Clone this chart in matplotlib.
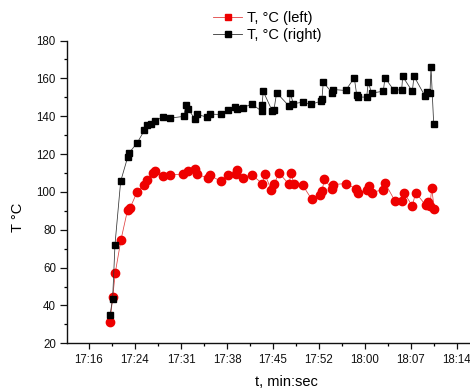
import matplotlib
matplotlib.use("Agg")
import matplotlib.pyplot as plt
from matplotlib.lines import Line2D
from matplotlib.ticker import MultipleLocator, FixedLocator

plt.rcParams['font.family'] = ['Liberation Sans', 'DejaVu Sans']

# time in minutes after 17:00
t_left = [20.09, 20.51, 20.92, 21.81, 22.86, 23.22, 24.36, 25.46, 25.83, 26.86,
          27.18, 28.33, 29.52, 31.56, 32.25, 33.44, 33.75, 35.47, 35.74, 37.41,
          38.60, 39.76, 39.92, 40.95, 42.26, 43.92, 44.35, 45.29, 45.76, 46.54,
          48.11, 48.42, 48.89, 50.25, 51.66, 52.96, 53.27, 53.63, 54.79, 55.04,
          56.98, 58.59, 58.86, 60.26, 60.67, 61.05, 62.77, 63.13, 64.69, 65.74,
          66.10, 67.40, 67.93, 69.50, 69.91, 70.17, 70.44, 70.84]
T_left = [31.4, 44.3, 57.4, 74.8, 90.7, 91.4, 100.2, 103.9, 106.1, 110.2,
          111.0, 108.2, 109.1, 109.3, 111.0, 112.3, 109.3, 107.2, 108.8, 105.6,
          108.8, 109.5, 111.4, 107.6, 109.1, 104.4, 109.3, 101.2, 104.0, 110.0,
          104.0, 110.0, 104.0, 103.5, 96.1, 98.2, 100.3, 106.8, 101.7, 103.9,
          104.4, 101.7, 99.6, 100.9, 103.1, 99.6, 101.2, 104.7, 95.2, 95.2,
          99.6, 92.6, 99.6, 93.0, 94.7, 92.6, 102.1, 90.8]

t_right = [20.09, 20.50, 20.87, 21.76, 22.86, 23.06, 24.36, 25.46, 25.83, 26.46,
           27.13, 28.33, 29.52, 31.62, 31.98, 32.34, 33.39, 33.75, 35.31, 35.74,
           37.46, 38.51, 39.70, 39.92, 40.90, 42.26, 43.83, 43.88, 44.08, 45.49,
           45.75, 46.17, 48.15, 48.30, 48.77, 50.24, 51.54, 53.11, 53.26, 53.47,
           54.88, 54.99, 56.97, 58.32, 58.70, 58.95, 60.26, 60.51, 61.04, 62.86,
           63.13, 64.54, 65.74, 65.90, 67.40, 67.67, 69.39, 69.75, 70.17, 70.33,
           70.75]
T_right = [34.9, 43.4, 72.2, 105.6, 118.4, 120.5, 126.0, 132.5, 135.1, 135.8,
           137.4, 139.7, 139.0, 139.9, 145.8, 143.9, 138.3, 140.9, 139.5, 141.1,
           140.9, 143.2, 144.8, 143.7, 144.5, 146.4, 142.7, 146.0, 153.1, 142.7,
           143.4, 152.4, 145.2, 152.4, 146.6, 147.4, 146.2, 148.0, 149.2, 158.0,
           152.2, 154.1, 153.6, 160.3, 151.3, 150.1, 150.1, 158.0, 152.2, 153.2,
           160.3, 153.6, 154.1, 161.0, 153.1, 161.1, 150.6, 152.7, 152.4, 165.9,
           136.0]

x_ticks = [16.8, 24.0, 31.2, 38.4, 45.6, 52.8, 60.0, 67.2, 74.4]
x_tick_labels = ["17:16", "17:24", "17:31", "17:38", "17:45", "17:52",
                 "18:00", "18:07", "18:14"]
series_labels = ["T, °C (left)", "T, °C (right)"]

W, H = 470, 388
fig = plt.figure(figsize=(W / 100, H / 100), dpi=100)
left_px, right_px, top_px, bot_px = 67, 505, 40.5, 343.3
ax = fig.add_axes([left_px / W, 1 - bot_px / H,
                   (right_px - left_px) / W, (bot_px - top_px) / H])

ax.plot(t_left, T_left, '-', color='#e04040', lw=0.55, marker='o', ms=6.0,
        mfc='#ee0000', mec='#ee0000', zorder=3)
ax.plot(t_right, T_right, '-', color='#333333', lw=0.55, marker='s', ms=5.0,
        mfc='black', mec='black', zorder=4)

ax.set_xlim(13.36, 81.91)
ax.set_ylim(20, 180)
ax.set_xticks(x_ticks)
ax.set_xticklabels(x_tick_labels)
ax.xaxis.set_minor_locator(FixedLocator([x + 3.6 for x in x_ticks]))
ax.yaxis.set_major_locator(MultipleLocator(20))
ax.yaxis.set_minor_locator(MultipleLocator(10))

for s in ['top', 'right']:
    ax.spines[s].set_visible(False)
for s in ['left', 'bottom']:
    ax.spines[s].set_linewidth(1.0)
    ax.spines[s].set_color('#111111')

ax.tick_params(which='major', direction='out', length=5, width=0.9, pad=3,
               labelsize=8.3, colors='#111111')
ax.tick_params(which='minor', direction='out', length=2.2, width=0.9)
ax.tick_params(axis='x', which='major', length=4.5)

ax.set_xlabel("t, min:sec", fontsize=10.5)
ax.set_ylabel("T °C", fontsize=10.5)
ax.xaxis.set_label_coords(0.5, -(374.5 - bot_px) / (bot_px - top_px))
ax.yaxis.set_label_coords((25 - left_px) / (right_px - left_px),
                          (bot_px - 217) / (bot_px - top_px))

handles = [Line2D([], [], color='#e04040', lw=0.6, marker='s', ms=5,
                  mfc='#ee0000', mec='#ee0000'),
           Line2D([], [], color='#333333', lw=0.6, marker='s', ms=5,
                  mfc='black', mec='black')]
fig.legend(handles, series_labels, loc='upper left',
           bbox_to_anchor=(213 / W, 1 - 11 / H), frameon=False,
           fontsize=10.5, handlelength=2.0, handletextpad=0.3,
           labelspacing=0.2, borderpad=0, borderaxespad=0)

fig.savefig("out.png", dpi=100)
